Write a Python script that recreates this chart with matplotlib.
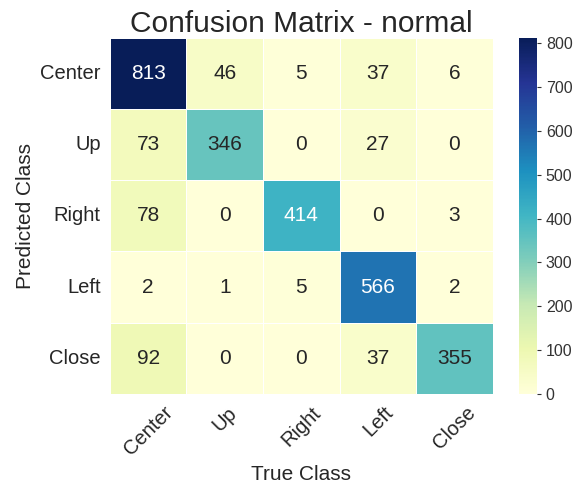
import numpy as np
import matplotlib
matplotlib.use("Agg")
import matplotlib.pyplot as plt
import seaborn as sns

classes = ["Center", "Up", "Right", "Left", "Close"]
matrix = [
    [813, 46, 5, 37, 6],
    [73, 346, 0, 27, 0],
    [78, 0, 414, 0, 3],
    [2, 1, 5, 566, 2],
    [92, 0, 0, 37, 355],
]

sns.set_style("white")
plt.rcParams['font.family'] = ['Liberation Sans', 'DejaVu Sans']

fig = plt.figure(figsize=(5.75, 4.91), dpi=100)
ax = fig.add_axes([0.191, 0.1976, 0.666, 0.726])
cax = fig.add_axes([0.9026, 0.1976, 0.031, 0.726])
sns.heatmap(np.array(matrix), annot=True, fmt="d", cmap="YlGnBu", linewidths=0.6,
            linecolor="white", ax=ax, cbar_ax=cax, annot_kws={"size": 15},
            xticklabels=classes, yticklabels=classes)
ax.set_title("Confusion Matrix - normal", fontsize=21.5, pad=4)
ax.set_xlabel("True Class", fontsize=15)
ax.set_ylabel("Predicted Class", fontsize=15)
ax.tick_params(axis='x', labelsize=14.5, rotation=45, length=3, color='#cccccc')
ax.tick_params(axis='y', labelsize=14.5, rotation=0, length=3)
for lbl in ax.get_xticklabels():
    lbl.set_ha('center')
cax.tick_params(labelsize=11.5, length=3, colors='#333333')
cax.yaxis.set_ticks(range(0, 801, 100))
fig.savefig("out.png", dpi=100)
